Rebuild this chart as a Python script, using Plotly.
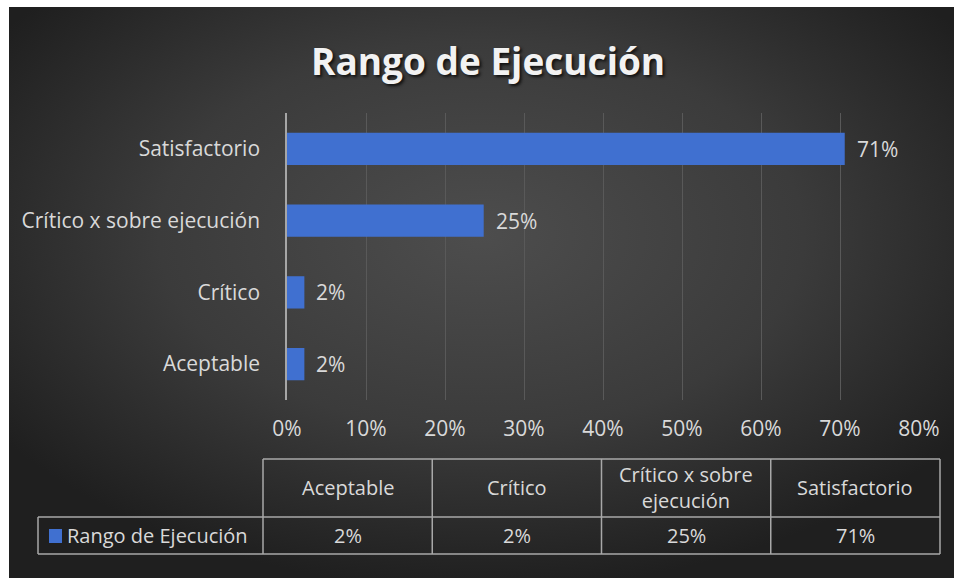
import base64
import textwrap
import plotly.graph_objects as go

# ---------------- data ----------------
categories = ["Aceptable", "Crítico", "Crítico x sobre ejecución", "Satisfactorio"]
values = [0.022, 0.022, 0.249, 0.706]
series_name = "Rango de Ejecución"
chart_title = "Rango de Ejecución"
x_tick_vals = [0, 0.1, 0.2, 0.3, 0.4, 0.5, 0.6, 0.7, 0.8]

W, H = 954, 578
BAR_COLOR = "#4070d0"
TEXT_COLOR = "#d9d9d9"
FONT = "Open Sans"
FS = 20
TFS = 20


def px_x(p):
    return p / W


def px_y(p):
    return 1 - p / H


# radial gradient background as an SVG image
svg = (
    '<svg xmlns="http://www.w3.org/2000/svg" width="945" height="571" preserveAspectRatio="none">'
    '<defs><radialGradient id="g" cx="50%" cy="40%" r="62%" fx="50%" fy="40%">'
    '<stop offset="0%" stop-color="#4d4d4d"/>'
    '<stop offset="55%" stop-color="#3b3b3b"/>'
    '<stop offset="100%" stop-color="#1f1f1f"/>'
    '</radialGradient></defs>'
    '<rect width="945" height="571" fill="url(#g)"/></svg>'
)
svg_uri = "data:image/svg+xml;base64," + base64.b64encode(svg.encode()).decode()

fig = go.Figure()
fig.add_trace(
    go.Bar(
        y=categories,
        x=values,
        orientation="h",
        name=series_name,
        marker=dict(color=BAR_COLOR, line=dict(width=0)),
        width=0.45,
        showlegend=False,
        hovertemplate="%{y}: %{x:.0%}<extra></extra>",
    )
)

shapes = []
annotations = []

# data labels (placed through the axes' scales)
for cat, val in zip(categories, values):
    annotations.append(dict(
        text=f"{val:.0%}", x=val, y=cat, xref="x", yref="y",
        showarrow=False, xanchor="left", yanchor="middle", xshift=10,
        font=dict(family=FONT, size=21, color=TEXT_COLOR)))

# white strip at top (caption area of the source document)
shapes.append(dict(type="rect", xref="paper", yref="paper", x0=0, x1=1,
                   y0=px_y(7), y1=1, fillcolor="white", line=dict(width=0), layer="above"))

# ---------------- data table ----------------
LINE = dict(color="#a8a8a8", width=1.5)
tbl_left, tbl_head_left, tbl_right = 38, 263, 940
tbl_top, tbl_mid, tbl_bot = 459, 517, 554
ncol = len(categories)
col_w = (tbl_right - tbl_head_left) / ncol
col_edges = [tbl_head_left + i * col_w for i in range(ncol + 1)]

shapes.append(dict(type="line", xref="paper", yref="paper", x0=px_x(tbl_head_left), x1=px_x(tbl_right),
                   y0=px_y(tbl_top), y1=px_y(tbl_top), line=LINE))
for yy in (tbl_mid, tbl_bot):
    shapes.append(dict(type="line", xref="paper", yref="paper", x0=px_x(tbl_left), x1=px_x(tbl_right),
                       y0=px_y(yy), y1=px_y(yy), line=LINE))
shapes.append(dict(type="line", xref="paper", yref="paper", x0=px_x(tbl_left), x1=px_x(tbl_left),
                   y0=px_y(tbl_mid), y1=px_y(tbl_bot), line=LINE))
for xx in col_edges:
    shapes.append(dict(type="line", xref="paper", yref="paper", x0=px_x(xx), x1=px_x(xx),
                       y0=px_y(tbl_top), y1=px_y(tbl_bot), line=LINE))

head_cy = (tbl_top + tbl_mid) / 2
row_cy = (tbl_mid + tbl_bot) / 2
for i, (cat, val) in enumerate(zip(categories, values)):
    cx = (col_edges[i] + col_edges[i + 1]) / 2
    annotations.append(dict(
        text="<br>".join(textwrap.wrap(cat, 15)), x=px_x(cx), y=px_y(head_cy),
        xref="paper", yref="paper", showarrow=False, xanchor="center", yanchor="middle",
        font=dict(family=FONT, size=TFS, color=TEXT_COLOR), align="center"))
    annotations.append(dict(
        text=f"{val:.0%}", x=px_x(cx), y=px_y(row_cy),
        xref="paper", yref="paper", showarrow=False, xanchor="center", yanchor="middle",
        font=dict(family=FONT, size=TFS, color=TEXT_COLOR)))

# legend key in table
shapes.append(dict(type="rect", xref="paper", yref="paper", x0=px_x(49), x1=px_x(62),
                   y0=px_y(543), y1=px_y(529), fillcolor=BAR_COLOR, line=dict(width=0)))
annotations.append(dict(
    text=series_name, x=px_x(65), y=px_y(row_cy), xref="paper", yref="paper",
    showarrow=False, xanchor="left", yanchor="middle",
    font=dict(family=FONT, size=TFS, color=TEXT_COLOR)))

# title
annotations.append(dict(
    text=f"<b>{chart_title}</b>", x=px_x(488), y=px_y(60), xref="paper", yref="paper",
    showarrow=False, xanchor="center", yanchor="middle",
    font=dict(family=FONT, size=37, color="#f2f2f2", shadow="2px 2px 3px #111111")))

fig.update_layout(
    width=W, height=H,
    margin=dict(l=0, r=0, t=0, b=0, autoexpand=False),
    paper_bgcolor="white",
    plot_bgcolor="rgba(0,0,0,0)",
    shapes=shapes,
    annotations=annotations,
    images=[dict(source=svg_uri, xref="paper", yref="paper", x=px_x(9), y=px_y(7),
                 sizex=(W - 9) / W, sizey=(H - 7) / H, xanchor="left", yanchor="top",
                 sizing="stretch", layer="below")],
    xaxis=dict(
        domain=[px_x(287), px_x(919)],
        range=[0, 0.8],
        tickvals=x_tick_vals,
        tickformat=".0%",
        showgrid=True, gridcolor="#595959", gridwidth=1,
        zeroline=False, showline=False,
        ticks="", ticklabelstandoff=14,
        tickfont=dict(family=FONT, size=21, color=TEXT_COLOR),
        automargin=False,
        fixedrange=True,
    ),
    yaxis=dict(
        domain=[px_y(400), px_y(113)],
        categoryorder="array", categoryarray=categories,
        showline=True, linecolor="#a6a6a6", linewidth=1.5,
        showgrid=False, zeroline=False,
        ticks="", ticklabelstandoff=21,
        tickfont=dict(family=FONT, size=21, color=TEXT_COLOR),
        automargin=False,
        fixedrange=True,
    ),
)

fig.write_html(
    "out.html",
    config={"displayModeBar": False},
    post_script="document.body.style.margin='0';document.body.style.overflow='hidden';",
)
